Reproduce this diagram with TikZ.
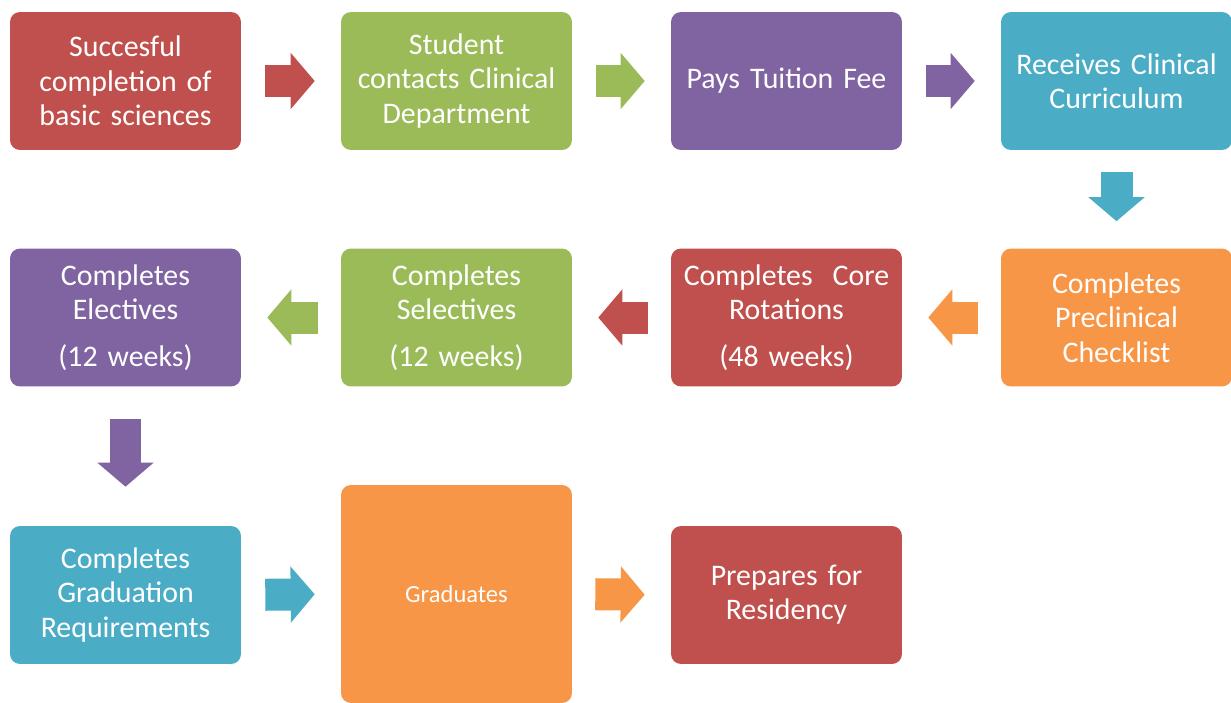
\documentclass[tikz,border=0pt]{standalone}
\usepackage{fontspec}
\setmainfont{Carlito}
\usetikzlibrary{arrows.meta}

\definecolor{bred}{HTML}{C0504D}
\definecolor{bgreen}{HTML}{9BBB59}
\definecolor{bpurple}{HTML}{8064A2}
\definecolor{bteal}{HTML}{4BACC6}
\definecolor{borange}{HTML}{F79646}

\begin{document}
\begin{tikzpicture}[x=0.02cm, y=-0.02cm,
    stepbox/.style={fill=#1, rounded corners=0.2cm, text=white,
      minimum width=4.62cm, minimum height=2.76cm, text width=4.4cm,
      align=center, inner sep=0pt, font=\fontsize{17}{19.5}\selectfont},
    blockarrow/.style={draw=#1, line width=0.64cm,
      -{Triangle[length=0.48cm, width=1.12cm, line width=1pt 0]}}]

      \useasboundingbox (0,0) rectangle (1231,703);

      \node (basics) at (125.5,81) [stepbox=bred]
      {Succesful\\completion of\\basic sciences};

      \node (contacts) at (456.5,81) [stepbox=bgreen]
      {Student\\contacts Clinical\\Department};

      \node (tuition) at (786.5,81) [stepbox=bpurple]
      {Pays Tuition Fee};

      \node (curriculum) at (1116.5,81) [stepbox=bteal]
      {Receives Clinical\\Curriculum};

      \node (checklist) at (1116.5,317.5) [stepbox=borange]
      {Completes\\Preclinical\\Checklist};

      \node (core) at (786.5,317.5) [stepbox=bred]
      {Completes\ \ Core\\Rotations\\[6.8pt](48 weeks)};

      \node (selectives) at (456.5,317.5) [stepbox=bgreen]
      {Completes\\Selectives\\[6.8pt](12 weeks)};

      \node (electives) at (125.5,317.5) [stepbox=bpurple]
      {Completes\\Electives\\[6.8pt](12 weeks)};

      \node (requirements) at (125.5,595) [stepbox=bteal]
      {Completes\\Graduation\\Requirements};

      \node (graduates) at (456.5,594) [stepbox=borange,
      minimum height=4.36cm, font=\fontsize{14}{17}\selectfont]
      {Graduates};

      \node (residency) at (786.5,595) [stepbox=bred]
      {Prepares for\\Residency};

      \draw[blockarrow=bred, shorten <=0.48cm, shorten >=0.52cm]
      (basics.east) -- (contacts.west);

      \draw[blockarrow=bgreen, shorten <=0.48cm, shorten >=0.52cm]
      (contacts.east) -- (tuition.west);

      \draw[blockarrow=bpurple, shorten <=0.48cm, shorten >=0.52cm]
      (tuition.east) -- (curriculum.west);

      \draw[blockarrow=bteal, shorten <=0.44cm, shorten >=0.54cm]
      (curriculum.south) -- (checklist.north);

      \draw[blockarrow=borange, shorten <=0.46cm, shorten >=0.52cm]
      (checklist.west) -- (core.east);

      \draw[blockarrow=bred, shorten <=0.46cm, shorten >=0.52cm]
      (core.west) -- (selectives.east);

      \draw[blockarrow=bgreen, shorten <=0.46cm, shorten >=0.52cm]
      (selectives.west) -- (electives.east);

      \draw[blockarrow=bpurple, shorten <=0.64cm, shorten >=0.78cm]
      (electives.south) -- (requirements.north);

      \draw[blockarrow=bteal, shorten <=0.48cm, shorten >=0.52cm]
      (requirements.east) -- (graduates.west);

      \draw[blockarrow=borange, shorten <=0.46cm, shorten >=0.52cm]
      (graduates.east) -- (residency.west);
    \end{tikzpicture}
\end{document}
